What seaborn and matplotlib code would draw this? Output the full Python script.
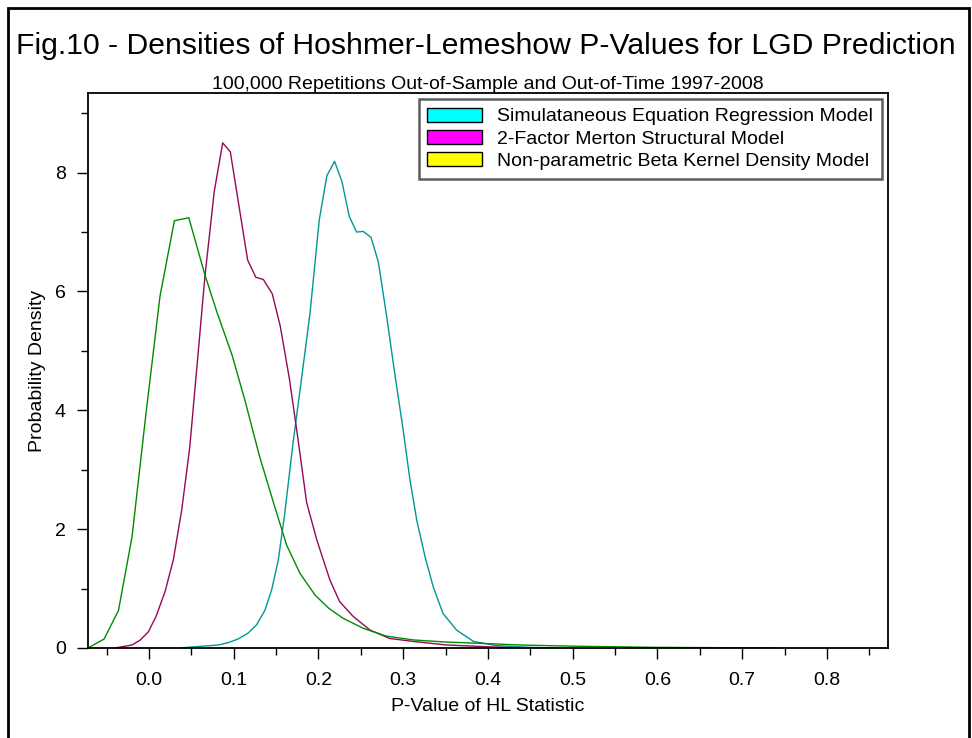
import seaborn as sns
import pandas as pd
import matplotlib.pyplot as plt
from matplotlib.patches import Patch, Rectangle
from matplotlib.ticker import MultipleLocator

# curve values
ser_x = [0.037, 0.054, 0.082, 0.0936, 0.105, 0.117, 0.127, 0.137, 0.1448, 0.1526, 0.160, 0.170,
         0.180, 0.190, 0.201, 0.210, 0.219, 0.2277, 0.2364, 0.245, 0.2529, 0.262, 0.2706, 0.2805,
         0.290, 0.2993, 0.308, 0.316, 0.3257, 0.3354, 0.347, 0.363, 0.383, 0.41, 0.45, 0.48]
ser_y = [0.0, 0.02, 0.05, 0.09, 0.15, 0.25, 0.39, 0.64, 0.98, 1.48, 2.24, 3.45,
         4.53, 5.63, 7.21, 7.95, 8.19, 7.85, 7.26, 7.00, 7.01, 6.91, 6.50, 5.58,
         4.62, 3.73, 2.83, 2.15, 1.54, 1.03, 0.58, 0.30, 0.11, 0.04, 0.01, 0.0]

merton_x = [-0.040, -0.020, -0.0106, -0.0008, 0.0083, 0.019, 0.0287, 0.0386, 0.048, 0.057, 0.066,
            0.077, 0.087, 0.096, 0.1164, 0.126, 0.135, 0.1455, 0.155, 0.1656, 0.176, 0.186, 0.198,
            0.2136, 0.225, 0.241, 0.261, 0.284, 0.312, 0.351, 0.40, 0.438]
merton_y = [0.0, 0.05, 0.13, 0.27, 0.53, 0.95, 1.48, 2.32, 3.36, 4.8, 6.25,
            7.68, 8.50, 8.35, 6.53, 6.24, 6.20, 5.96, 5.41, 4.54, 3.50, 2.45, 1.82,
            1.14, 0.78, 0.53, 0.30, 0.16, 0.11, 0.05, 0.02, 0.0]

beta_x = [-0.072, -0.053, -0.036, -0.020, -0.0035, 0.013, 0.030, 0.047, 0.066, 0.080, 0.098,
          0.113, 0.130, 0.147, 0.1625, 0.178, 0.196, 0.212, 0.229, 0.253, 0.280, 0.312, 0.350,
          0.387, 0.438, 0.50, 0.60, 0.742]
beta_y = [0.0, 0.15, 0.63, 1.87, 3.95, 5.92, 7.19, 7.24, 6.28, 5.66, 4.93,
          4.18, 3.25, 2.44, 1.73, 1.26, 0.89, 0.67, 0.50, 0.33, 0.20, 0.135, 0.10,
          0.08, 0.05, 0.03, 0.01, 0.0]

model_names = ["Simulataneous Equation Regression Model",
               "2-Factor Merton Structural Model",
               "Non-parametric Beta Kernel Density Model"]
legend_colors = ["#00FFFF", "#FF00FF", "#FFFF00"]
line_colors = ["#009797", "#930A55", "#008C00"]

df = pd.concat([
    pd.DataFrame({"x": ser_x, "y": ser_y, "model": model_names[0]}),
    pd.DataFrame({"x": merton_x, "y": merton_y, "model": model_names[1]}),
    pd.DataFrame({"x": beta_x, "y": beta_y, "model": model_names[2]}),
])

sns.set_style("ticks")
plt.rcParams['font.family'] = ['Liberation Sans', 'DejaVu Sans']
plt.rcParams['text.color'] = 'black'
plt.rcParams['axes.labelcolor'] = 'black'
plt.rcParams['xtick.color'] = 'black'
plt.rcParams['ytick.color'] = 'black'

fig = plt.figure(figsize=(9.72, 7.38), dpi=100)
ax = fig.add_axes([0.0905, 0.122, 0.823, 0.752])

for name, col in zip(model_names, line_colors):
    sub = df[df["model"] == name]
    sns.lineplot(data=sub, x="x", y="y", ax=ax, color=col, linewidth=1.0,
                 estimator=None, sort=False, legend=False)

ax.set_xlim(-0.072, 0.872)
ax.set_ylim(0, 9.34)
ax.xaxis.set_major_locator(MultipleLocator(0.1))
ax.xaxis.set_minor_locator(MultipleLocator(0.05))
ax.yaxis.set_major_locator(MultipleLocator(2))
ax.yaxis.set_minor_locator(MultipleLocator(1))
ax.set_xticks([0.0, 0.1, 0.2, 0.3, 0.4, 0.5, 0.6, 0.7, 0.8])
ax.set_xticklabels(["0.0", "0.1", "0.2", "0.3", "0.4", "0.5", "0.6", "0.7", "0.8"])
ax.tick_params(which='major', direction='out', length=8, width=1, labelsize=14, colors='black')
ax.tick_params(axis='x', which='major', pad=9)
ax.tick_params(axis='y', which='major', pad=8)
ax.tick_params(which='minor', direction='out', length=5, width=1)
for s in ax.spines.values():
    s.set_color('black')
    s.set_linewidth(1.3)

ax.set_xlabel("P-Value of HL Statistic", fontsize=14, labelpad=7)
ax.set_ylabel("Probability Density", fontsize=14, labelpad=6)

handles = [Patch(facecolor=c, edgecolor='black', linewidth=1) for c in legend_colors]
leg = ax.legend(handles, model_names, loc='upper right', fontsize=14, frameon=True,
                fancybox=False, borderaxespad=0.3, handlelength=2.8, handleheight=0.75,
                labelspacing=0.22, handletextpad=0.8, borderpad=0.45)
leg.get_frame().set_edgecolor('#333333')
leg.get_frame().set_linewidth(1.8)

fig.text(0.5, 0.937, "Fig.10 - Densities of Hoshmer-Lemeshow P-Values for LGD Prediction",
         ha='center', va='center', fontsize=21.7)
fig.text(0.502, 0.886, "100,000 Repetitions Out-of-Sample and Out-of-Time 1997-2008",
         ha='center', va='center', fontsize=14)

fig.patches.append(Rectangle((8 / 972, -0.05), 961 / 972, 1 - 8 / 738 + 0.05,
                             transform=fig.transFigure, fill=False, edgecolor='black',
                             linewidth=2))

fig.savefig("out.png", dpi=100)
